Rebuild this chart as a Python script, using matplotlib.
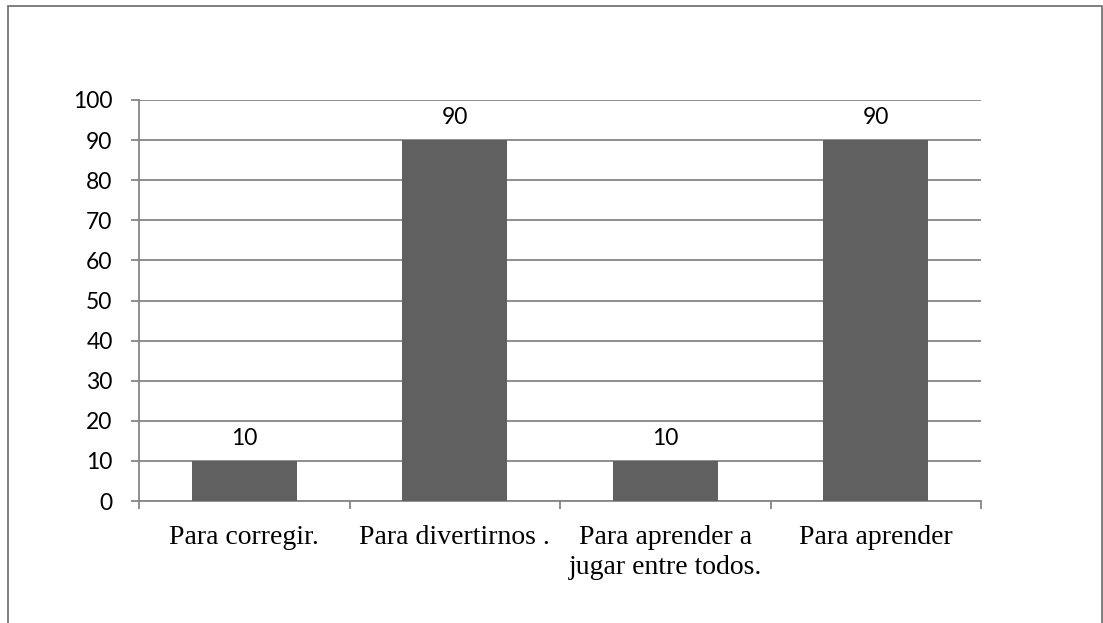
import matplotlib
matplotlib.use("Agg")
import matplotlib.pyplot as plt
from matplotlib.patches import Rectangle
import numpy as np

categories = ["Para corregir.", "Para divertirnos .", "Para aprender a\njugar entre todos.", "Para aprender"]
values = [10, 90, 10, 90]
y_ticks = [0, 10, 20, 30, 40, 50, 60, 70, 80, 90, 100]

bar_color = "#606060"
axis_color = "#868686"

fig = plt.figure(figsize=(11.03, 6.23), dpi=100)
ax = fig.add_axes([139 / 1103, 1 - 501 / 623, (981 - 139) / 1103, (501 - 100) / 623])

x = np.arange(len(categories))
ax.bar(x, values, width=0.5, color=bar_color, zorder=3)

ax.set_xlim(-0.5, len(categories) - 0.5)
ax.set_ylim(0, 100)
ax.set_yticks(y_ticks)
ax.set_yticklabels([str(t) for t in y_ticks], fontsize=16.5, family="Lato")
ax.yaxis.grid(True, color=axis_color, linewidth=1.3, zorder=0)

ax.set_xticks(np.arange(-0.5, len(categories), 1.0))
ax.set_xticklabels([])
ax.set_xticks(x, minor=True)
ax.set_xticklabels(categories, minor=True, fontsize=20, family="Liberation Serif",
                   linespacing=1.3)
ax.tick_params(axis="x", which="minor", length=0, pad=17)
ax.tick_params(axis="x", which="major", length=6, color=axis_color, width=1.3)
ax.tick_params(axis="y", length=6, color=axis_color, width=1.3, pad=13)

for s in ["top", "right"]:
    ax.spines[s].set_visible(False)
for s in ["left", "bottom"]:
    ax.spines[s].set_color(axis_color)
    ax.spines[s].set_linewidth(1.3)

for xi, v in zip(x, values):
    ax.annotate(str(v), (xi, v), xytext=(0, 8.5), textcoords="offset points",
                ha="center", va="bottom", fontsize=16.5, family="Lato")

border = Rectangle((7.5 / 1103, -0.1), (1101.5 - 7.5) / 1103, 1.1 - 6.5 / 623,
                   transform=fig.transFigure, fill=False, edgecolor="#767676",
                   linewidth=1.3, clip_on=False)
fig.patches.append(border)

fig.savefig("out.png", dpi=100)
